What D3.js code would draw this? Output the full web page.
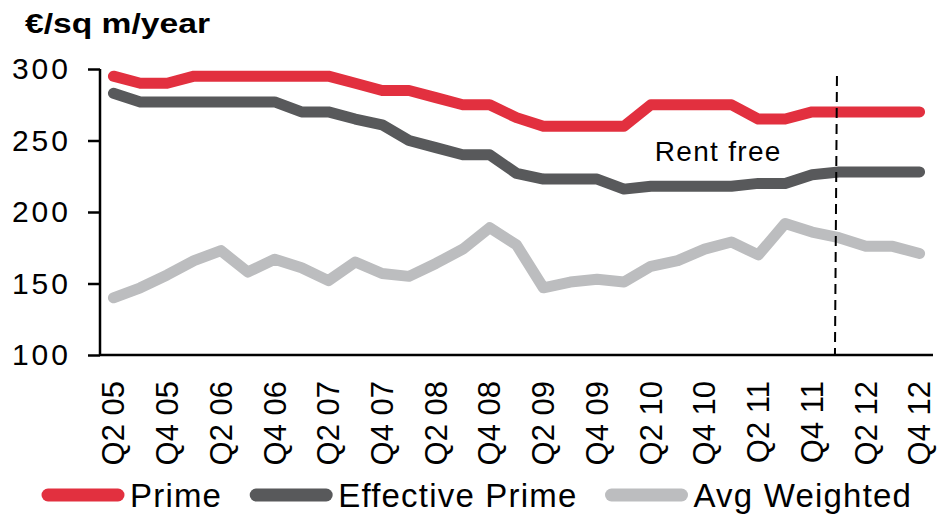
<!DOCTYPE html>
<html>
<head>
<meta charset="utf-8">
<script src="https://cdn.jsdelivr.net/npm/d3@7"></script>
<style>
  body { margin: 0; background: #fff; }
  svg { display: block; font-family: "Liberation Sans", Arial, sans-serif; }
</style>
</head>
<body>
<svg id="chart" width="937" height="514"></svg>
<script>

// quarters on the x axis (every second one gets a label)
const quarters = ["Q2 05","Q3 05","Q4 05","Q1 06","Q2 06","Q3 06","Q4 06","Q1 07","Q2 07","Q3 07","Q4 07",
                  "Q1 08","Q2 08","Q3 08","Q4 08","Q1 09","Q2 09","Q3 09","Q4 09","Q1 10","Q2 10","Q3 10",
                  "Q4 10","Q1 11","Q2 11","Q3 11","Q4 11","Q1 12","Q2 12","Q3 12","Q4 12"];

const prime     = [295,290,290,295,295,295,295,295,295,290,285,285,280,275,275,266,260,260,260,260,275,275,275,275,265,265,270,270,270,270,270];
const effective = [283,277,277,277,277,277,277,270,270,265,261,250,245,240,240,227,223,223,223,216,218,218,218,218,220,220,226,228,228,228,228];
const avgWeighted = [140,147,156,166,173,158,167,161,152,165,157,155,164,174,189,177,147,151,153,151,162,166,174,179,170,192,186,182,176,176,171];

const seriesNames  = ["Prime", "Effective Prime", "Avg Weighted"];
const seriesColors = ["#e2303f", "#58595b", "#bcbdbf"];

const yTicks = [100, 150, 200, 250, 300];
const forecastStart = "Q1 12";


function draw_chart( svg_id ){

    let svg = d3.select(svg_id);
    let left = 100, right = 933, top = 69, bottom = 355;

    let x = d3.scalePoint().domain(quarters).range([left, right]).padding(0.5);
    let y = d3.scaleLinear().domain([100, 300]).range([bottom, top]);

    // y axis
    let yAxis = svg.append("g")
        .attr("transform", "translate(" + left + ",0)")
        .call(d3.axisLeft(y).tickValues(yTicks).tickSize(12).tickPadding(17));
    yAxis.selectAll("line").attr("stroke", "#000").attr("stroke-width", 2.5);
    yAxis.select(".domain").attr("stroke", "#000").attr("stroke-width", 2.5).attr("d", "M0," + top + "V" + bottom);
    yAxis.selectAll("text")
        .style("font-size", "30px")
        .style("letter-spacing", "3px")
        .attr("fill", "#000")
        .attr("font-family", "Liberation Sans, Arial");

    // x axis line
    svg.append("line")
        .attr("x1", left).attr("x2", right)
        .attr("y1", bottom).attr("y2", bottom)
        .attr("stroke", "#000").attr("stroke-width", 2.5);

    // x labels, rotated, every other quarter
    svg.append("g").selectAll("text")
        .data(quarters.filter( (q,i) => i % 2 == 0 ))
        .enter().append("text")
        .attr("transform", d => "translate(" + x(d) + "," + (bottom + 26) + ") rotate(-90)")
        .attr("dy", ".35em")
        .attr("text-anchor", "end")
        .style("font-size", "31px")
        .attr("fill", "#000")
        .text(d => d);

    // series lines
    let line = d3.line()
        .x( (d,i) => x(quarters[i]) )
        .y( d => y(d) );

    let all = [prime, effective, avgWeighted];
    // draw light grey first so red sits on top
    [2, 1, 0].forEach( function(k){
        svg.append("path")
            .attr("d", line(all[k]))
            .attr("fill", "none")
            .attr("stroke", seriesColors[k])
            .attr("stroke-width", 11)
            .attr("stroke-linecap", "round")
            .attr("stroke-linejoin", "round");
    });

    // forecast divider
    let fx = x(forecastStart) - 3;
    svg.append("line")
        .attr("x1", fx + 1).attr("x2", fx - 1)
        .attr("y1", top + 7).attr("y2", bottom)
        .attr("stroke", "#000")
        .attr("stroke-width", 2)
        .attr("stroke-dasharray", "10,6");

    svg.append("text")
        .attr("x", x("Q2 10") + 4)
        .attr("y", y(236))
        .style("font-size", "28px")
        .style("letter-spacing", "1.3px")
        .attr("fill", "#000")
        .text("Rent free");

    // unit title
    svg.append("text")
        .attr("x", 25).attr("y", 33)
        .style("font-size", "27px")
        .style("font-weight", "bold")
        .attr("textLength", 185)
        .attr("lengthAdjust", "spacingAndGlyphs")
        .attr("fill", "#000")
        .text("€/sq m/year");

    // legend
    let lx = 42, ly = 495;
    let g = svg.append("g");
    seriesNames.forEach( function(name, k){
        g.append("line")
            .attr("x1", lx + 6).attr("x2", lx + 76)
            .attr("y1", ly).attr("y2", ly)
            .attr("stroke", seriesColors[k])
            .attr("stroke-width", 13)
            .attr("stroke-linecap", "round");
        let t = g.append("text")
            .attr("x", lx + 88).attr("y", ly + 12)
            .style("font-size", "33px")
            .style("letter-spacing", "1.2px")
            .attr("fill", "#000")
            .text(name);
        lx += 88 + t.node().getComputedTextLength() + 28;
    });
}

draw_chart("#chart");

</script>
</body>
</html>
